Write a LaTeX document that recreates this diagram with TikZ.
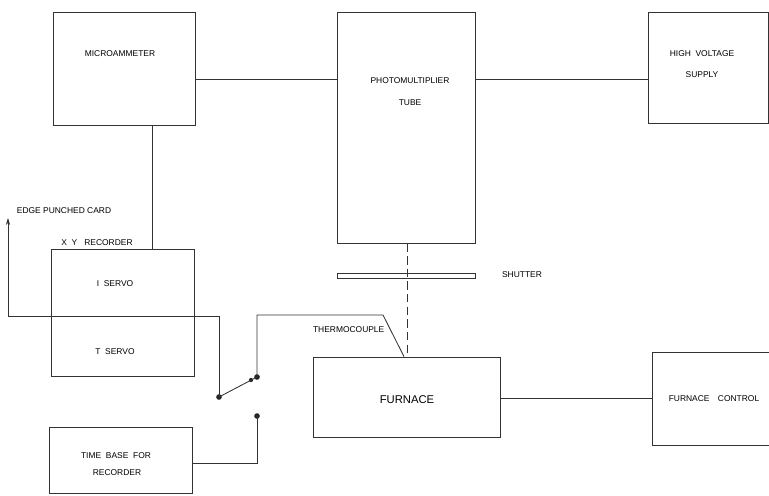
\documentclass[tikz,border=0pt]{standalone}
\usepackage{fontspec}
\setmainfont{Liberation Sans}
\usetikzlibrary{arrows.meta,fit}

\begin{document}
\begin{tikzpicture}[x=0.025cm,y=-0.025cm,
  box/.style={draw=black!80,line width=0.6pt,inner sep=0pt},
  wire/.style={draw=black!80,line width=0.6pt},
  lbl/.style={font=\fontsize{6}{7}\selectfont,inner sep=1pt},
  biglbl/.style={font=\fontsize{8}{9}\selectfont,inner sep=1pt},
  dot/.style={circle,fill=black!85,inner sep=0pt,minimum size=4pt}]
  \clip (0,0) rectangle (769,495);
  \fill[white] (0,0) rectangle (769,495);
  % blocks
  \node[box,fit={(53,12) (195,125)}] (micro) {};
  \node[box,fit={(337,12) (475,243)}] (pmt) {};
  \node[box,fit={(648,12) (768,123)}] (hv) {};
  \node[box,fit={(51,249) (194,376)}] (rec) {};
  \node[box,fit={(49,427) (192,493)}] (tbase) {};
  \node[box,fit={(313,357) (500,437)}] (furn) {};
  \node[box,fit={(652,352) (790,445)}] (fctrl) {};
  \node[box,fit={(337,273) (475,278)}] (shutter) {};
  % labels
  \node[lbl] (tmicro) at (120,54) {MICROAMMETER};
  \node[lbl] (tpmt) at (410,81) {PHOTOMULTIPLIER};
  \node[lbl] (ttube) at (410,103) {TUBE};
  \node[lbl] (thv) at (702,54) {HIGH\ \ VOLTAGE};
  \node[lbl] (tsupply) at (702,75) {SUPPLY};
  \node[lbl] (tcard) at (64,211) {EDGE PUNCHED CARD};
  \node[lbl] (trec) at (97,243) {X\ \ Y\ \ \ RECORDER};
  \node[lbl] (tiservo) at (115,284) {I\ \ SERVO};
  \node[lbl] (ttservo) at (115,352) {T\ \ SERVO};
  \node[lbl] (ttime) at (116,456) {TIME\ \ BASE\ \ FOR};
  \node[lbl] (ttime2) at (117,473) {RECORDER};
  \node[lbl] (tshut) at (522,275) {SHUTTER};
  \node[lbl,anchor=east] (ttc) at (386,330) {THERMOCOUPLE};
  \node[biglbl] (tfurn) at (407,400) {FURNACE};
  \node[lbl] (tfctrl) at (714,399) {FURNACE\quad CONTROL};
  % switch
  \node[dot] (pivot) at (219,397) {};
  \node[dot] (conta) at (257,377) {};
  \node[dot] (contb) at (257,416) {};
  \node[dot,minimum size=3pt] (arm) at (251,380) {};
  \coordinate (card) at (8,218);
  \coordinate (tcbend) at (383,315);
  % connections
  \draw[wire] (micro.east |- 0,79) -- (pmt.west |- 0,79);
  \draw[wire] (pmt.east |- 0,79) -- (hv.west |- 0,79);
  \draw[wire] (micro.south -| 152,0) -- (rec.north -| 152,0);
  \draw[wire,dashed,dash pattern=on 6pt off 3pt] (pmt.south -| 407,0) -- (furn.north -| 407,0);
  \draw[wire] (furn.east |- 0,398) -- (fctrl.west |- 0,398);
  \draw[wire] (rec.west |- 0,316) -- (rec.east |- 0,316);
  \draw[wire,-{Stealth[length=5pt,width=3pt]}] (rec.west |- 0,316) -- (card |- 0,316) -- (card);
  \draw[wire] (rec.east |- 0,316) -- (pivot |- 0,316) -- (pivot.center);
  \draw[wire] (pivot.center) -- (conta.center);
  \draw[wire] (conta.center) -- (conta |- tcbend) -- (tcbend) -- (furn.north -| 404,0);
  \draw[wire] (contb.center) -- (contb |- 0,463) -- (tbase.east |- 0,463);
\end{tikzpicture}
\end{document}
